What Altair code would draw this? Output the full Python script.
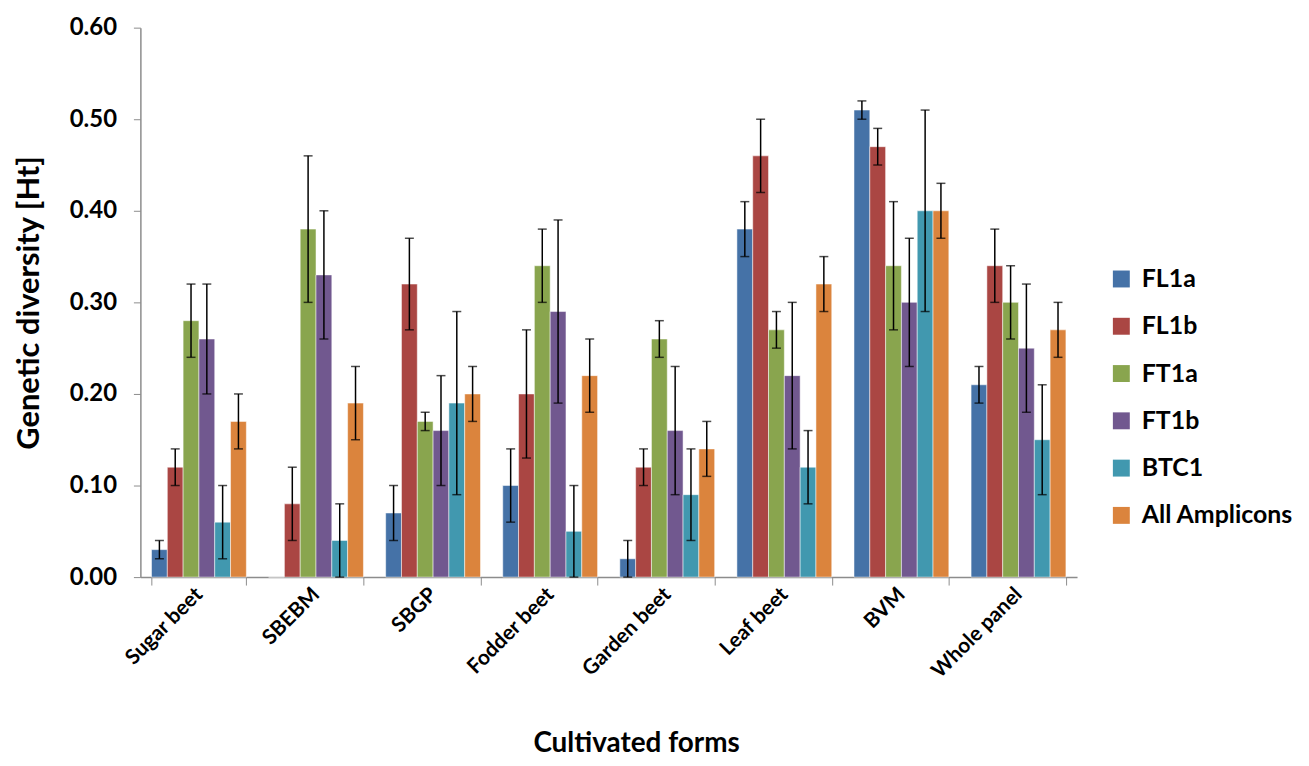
import altair as alt
import pandas as pd

categories = ["Sugar beet", "SBEBM", "SBGP", "Fodder beet", "Garden beet",
              "Leaf beet", "BVM", "Whole panel"]
series = ["FL1a", "FL1b", "FT1a", "FT1b", "BTC1", "All Amplicons"]
colors = ["#4572A7", "#AA4643", "#89A54E", "#71588F", "#4198AF", "#DB843D"]

FL1a = [0.03, 0.00, 0.07, 0.10, 0.02, 0.38, 0.51, 0.21]
FL1b = [0.12, 0.08, 0.32, 0.20, 0.12, 0.46, 0.47, 0.34]
FT1a = [0.28, 0.38, 0.17, 0.34, 0.26, 0.27, 0.34, 0.30]
FT1b = [0.26, 0.33, 0.16, 0.29, 0.16, 0.22, 0.30, 0.25]
BTC1 = [0.06, 0.04, 0.19, 0.05, 0.09, 0.12, 0.40, 0.15]
ALL = [0.17, 0.19, 0.20, 0.22, 0.14, 0.32, 0.40, 0.27]

FL1a_err = [0.01, 0.00, 0.03, 0.04, 0.02, 0.03, 0.01, 0.02]
FL1b_err = [0.02, 0.04, 0.05, 0.07, 0.02, 0.04, 0.02, 0.04]
FT1a_err = [0.04, 0.08, 0.01, 0.04, 0.02, 0.02, 0.07, 0.04]
FT1b_err = [0.06, 0.07, 0.06, 0.10, 0.07, 0.08, 0.07, 0.07]
BTC1_err = [0.04, 0.04, 0.10, 0.05, 0.05, 0.04, 0.11, 0.06]
ALL_err = [0.03, 0.04, 0.03, 0.04, 0.03, 0.03, 0.03, 0.03]

vals = [FL1a, FL1b, FT1a, FT1b, BTC1, ALL]
errs = [FL1a_err, FL1b_err, FT1a_err, FT1b_err, BTC1_err, ALL_err]

rows = []
for s, v, e in zip(series, vals, errs):
    for c, vv, ee in zip(categories, v, e):
        rows.append({"form": c, "amplicon": s, "ht": vv,
                     "lo": vv - ee, "hi": vv + ee, "has_err": ee > 0})
df = pd.DataFrame(rows)

FONT = "Lato"

x = alt.X("form:N", sort=categories,
          scale=alt.Scale(paddingInner=0.19, paddingOuter=0.095),
          axis=alt.Axis(title="Cultivated forms", labelAngle=-45,
                        labelAlign="right", labelBaseline="middle",
                        labelFontSize=21, labelFont=FONT, labelFontWeight="bold",
                        labelColor="black", labelPadding=6,
                        tickBand="extent", tickSize=8, tickColor="#8c8c8c",
                        domainColor="#8c8c8c", domainWidth=1.5,
                        titleFontSize=28, titleFont=FONT, titleFontWeight="bold",
                        titleColor="black", titleX=498, titleY=175,
                        titleBaseline="alphabetic", titleAnchor="start",
                        titleAlign="center"))
xoff = alt.XOffset("amplicon:N", sort=series)
color = alt.Color("amplicon:N", sort=series,
                  scale=alt.Scale(domain=series, range=colors),
                  legend=alt.Legend(title=None, orient="none", legendX=973,
                                    legendY=240, symbolType="square",
                                    symbolSize=289, symbolStrokeWidth=0,
                                    labelFontSize=25, labelFont=FONT,
                                    labelFontWeight="bold", labelColor="black",
                                    labelLimit=400,
                                    labelOffset=8, rowPadding=21.5, padding=0))
y = alt.Y("ht:Q", scale=alt.Scale(domain=[0, 0.6], nice=False),
          axis=alt.Axis(title="Genetic diversity [Ht]", values=[0, 0.1, 0.2, 0.3, 0.4, 0.5, 0.6],
                        format=".2f", grid=False, tickSize=7, tickColor="#8c8c8c",
                        domainColor="#8c8c8c", domainWidth=1.5, labelPadding=17,
                        labelFontSize=24, labelFont=FONT, labelFontWeight="bold",
                        labelColor="black",
                        titleFontSize=31, titleFont=FONT, titleFontWeight="bold",
                        titleColor="black", titleX=-111, titleY=276,
                        titleAlign="center", titleBaseline="middle",
                        titleAnchor="start"))

bars = alt.Chart(df).mark_bar(stroke="white", strokeWidth=1, strokeOpacity=0.5).encode(
    x=x, xOffset=xoff, y=y, color=color)

eb = alt.Chart(df).transform_filter("datum.has_err")
rule = eb.mark_rule(color="black", strokeWidth=1.5).encode(
    x=alt.X("form:N", sort=categories), xOffset=xoff,
    y="lo:Q", y2="hi:Q")
cap_lo = eb.mark_tick(color="black", thickness=1.5, size=9).encode(
    x=alt.X("form:N", sort=categories), xOffset=xoff, y="lo:Q")
cap_hi = eb.mark_tick(color="black", thickness=1.5, size=9).encode(
    x=alt.X("form:N", sort=categories), xOffset=xoff, y="hi:Q")

chart = alt.layer(bars, rule, cap_lo, cap_hi).properties(
    width=941, height=552,
    autosize=alt.AutoSizeParams(type="none"),
    padding={"left": 133, "top": 18, "right": 225, "bottom": 180},
).configure_view(stroke=None).configure_scale(
    bandPaddingInner=0.19)

chart.save("out.html", embed_options={"renderer": "svg", "actions": False})
